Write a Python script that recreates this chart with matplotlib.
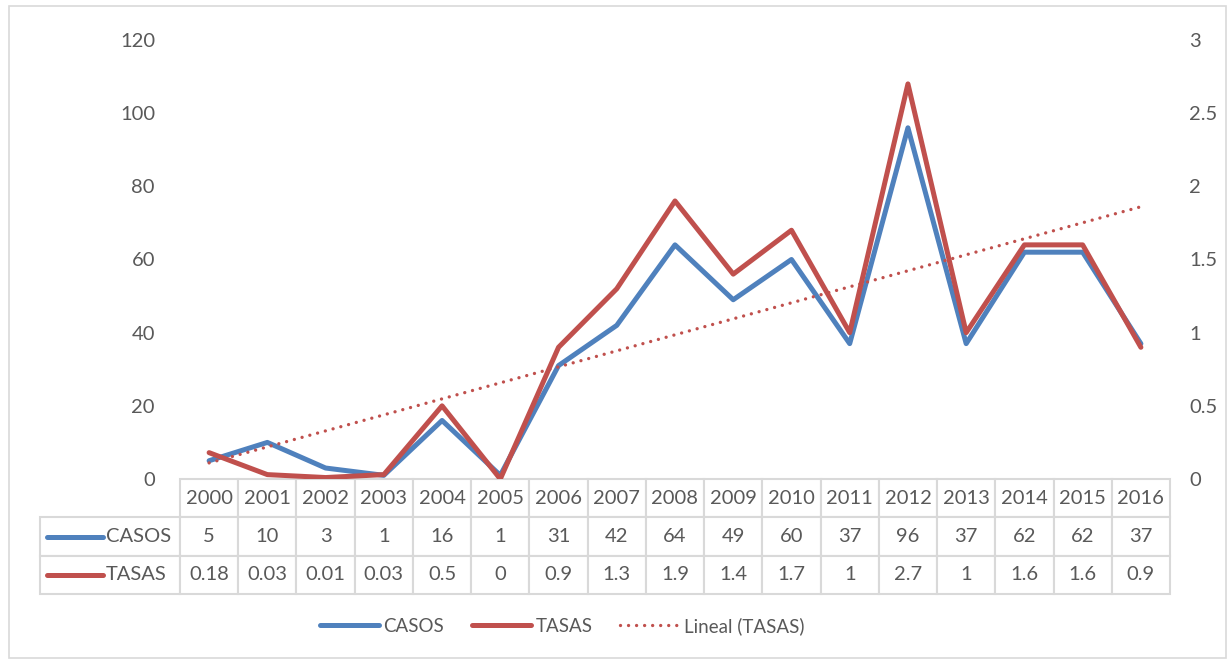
import numpy as np
import matplotlib
matplotlib.use("Agg")
import matplotlib.pyplot as plt
from matplotlib.patches import Rectangle
from matplotlib.lines import Line2D

plt.rcParams['font.family'] = ['Lato', 'DejaVu Sans']

# data
years = ['2000', '2001', '2002', '2003', '2004', '2005', '2006', '2007', '2008',
         '2009', '2010', '2011', '2012', '2013', '2014', '2015', '2016']
casos = [5, 10, 3, 1, 16, 1, 31, 42, 64, 49, 60, 37, 96, 37, 62, 62, 37]
tasas = [0.18, 0.03, 0.01, 0.03, 0.5, 0, 0.9, 1.3, 1.9, 1.4, 1.7, 1, 2.7, 1, 1.6, 1.6, 0.9]
tasas_txt = ['0.18', '0.03', '0.01', '0.03', '0.5', '0', '0.9', '1.3', '1.9', '1.4',
             '1.7', '1', '2.7', '1', '1.6', '1.6', '0.9']

blue = '#4F81BD'
red = '#C0504D'
txt = '#595959'
grid = '#D9D9D9'
fs = 14.5

W, H = 1228, 659
fig = plt.figure(figsize=(W / 100, H / 100), dpi=100)
fig.patches.append(Rectangle((9 / W, 1 - 658 / H), (1226 - 9) / W, (658 - 6) / H,
                             transform=fig.transFigure, fill=False,
                             edgecolor=grid, linewidth=1.2))

ax = fig.add_axes([180 / W, 1 - 479 / H, 990 / W, 439 / H])
ax2 = ax.twinx()

x = np.arange(len(years))
ax.plot(x, casos, color=blue, linewidth=3.6, solid_joinstyle='round',
        solid_capstyle='round', label='CASOS')
ax2.plot(x, tasas, color=red, linewidth=3.6, solid_joinstyle='round',
         solid_capstyle='round', label='TASAS')
# excel style linear trend line
k, b = np.polyfit(x, tasas, 1)
ax2.plot(x, k * x + b, color=red, linewidth=2.4, linestyle=(0, (0.01, 2.4)),
         dash_capstyle='round', label='Lineal (TASAS)')

ax.set_xlim(-0.5, len(years) - 0.5)
ax.set_ylim(0, 120)
ax2.set_ylim(0, 3)
ax.set_yticks(np.arange(0, 121, 20))
ax2.set_yticks(np.arange(0, 3.01, 0.5))
ax2.set_yticklabels(['0', '0.5', '1', '1.5', '2', '2.5', '3'])
ax.set_xticks([])
for a in (ax, ax2):
    for s in a.spines.values():
        s.set_visible(False)
ax.tick_params(axis='y', length=0, pad=18, labelsize=fs, labelcolor=txt)
ax2.tick_params(axis='y', length=0, pad=14, labelsize=fs, labelcolor=txt)

# data table under the plot (first column holds the series keys)
rh = 38.4 / 439
rlw = 140 / 990
cells = [[''] + [str(v) for v in casos], [''] + tasas_txt]
tbl = ax.table(cellText=cells, colLabels=[''] + years,
               colWidths=[rlw] + [1 / len(years)] * len(years),
               cellLoc='center', bbox=[-rlw, -3 * rh, 1 + rlw, 3 * rh])
tbl.auto_set_font_size(False)
tbl.set_fontsize(fs)
for (r, c), cell in tbl.get_celld().items():
    cell.set_edgecolor(grid)
    cell.set_linewidth(1.5)
    cell.get_text().set_color(txt)
    if r == 0 and c == 0:
        cell.visible_edges = ''

for i, (name, col) in enumerate([('CASOS', blue), ('TASAS', red)]):
    yc = -(1.5 + i) * rh
    ax.add_line(Line2D([(47 - 180) / 990, (103 - 180) / 990], [yc, yc],
                       transform=ax.transAxes, color=col, linewidth=3.6,
                       solid_capstyle='round', clip_on=False))
    ax.text((106 - 180) / 990, yc, name, transform=ax.transAxes, ha='left',
            va='center', fontsize=fs, color=txt, clip_on=False)

h1, l1 = ax.get_legend_handles_labels()
h2, l2 = ax2.get_legend_handles_labels()
fig.legend(h1 + h2, l1 + l2, loc='center', bbox_to_anchor=(562 / W, 1 - 626 / H),
           ncol=3, frameon=False, fontsize=13.5, labelcolor=txt, handlelength=3.15,
           handletextpad=0.27, columnspacing=1.45)

fig.savefig('out.png', dpi=100)
